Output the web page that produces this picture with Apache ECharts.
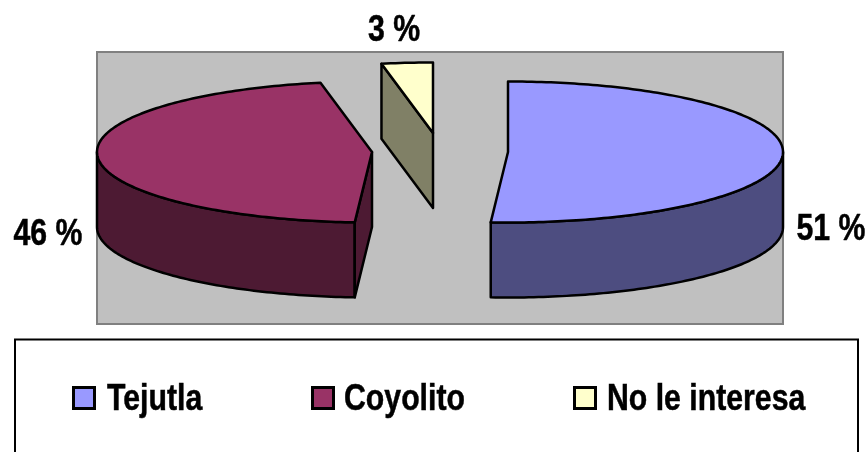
<!DOCTYPE html>
<html>
<head>
<meta charset="utf-8">
<style>html,body{margin:0;padding:0;background:#fff}#chart{width:868px;height:452px}</style>
<script src="https://cdn.jsdelivr.net/npm/echarts@6/dist/echarts.min.js"></script>
</head>
<body>
<div id="chart"></div>
<script>
// Preference shares
const categories = ['Tejutla', 'Coyolito', 'No le interesa'];
const shares = [51, 46, 3];
const topColors = ['#9999FF', '#993366', '#FFFFCC'];
const sideColors = ['#4D4D80', '#4D1A33', '#808066'];

// Pie projection: shared radii and extrusion depth, plus each exploded slice's centre and label anchor
const RX = 275, RY = 70.5, DEPTH = 75;
const centers = [[508, 152], [372, 152], [433, 133]];
const labelAnchors = [[831, 230], [48, 235], [394, 31]];

// Tall, narrow bold lettering: a regular bold face squeezed horizontally
const FONT = 'bold 36px "Liberation Sans", Arial, sans-serif';
const SQUEEZE = 0.84;

// Legend row: box, swatch and text positions
const legendIconX = [73.5, 312.5, 574.5];
const legendTextX = [107, 344, 607];
const LEGEND_Y = 400;

// Cumulative start of each slice, clockwise from twelve o'clock
const starts = shares.map((_, i) => shares.slice(0, i).reduce((a, b) => a + b, 0));

function rimPoint(c, deg, drop) {
  const r = deg * Math.PI / 180;
  return [c[0] + RX * Math.sin(r), c[1] - RY * Math.cos(r) + (drop || 0)];
}
function arc(c, from, to, drop) {
  const pts = [];
  const n = Math.max(2, Math.ceil(Math.abs(to - from)));
  for (let i = 0; i <= n; i++) pts.push(rimPoint(c, from + (to - from) * i / n, drop));
  return pts;
}

function renderSlice(params, api) {
  const i = params.seriesIndex;
  const start = api.value(1) * 3.6;
  const end = start + api.value(0) * 3.6;
  const c = centers[i];
  const toPx = p => api.coord(p);
  const line = { stroke: '#000', lineWidth: 2.5, lineJoin: 'round' };
  const children = [];
  const poly = (pts, fill) => children.push({
    type: 'polygon',
    shape: { points: pts.map(toPx) },
    style: Object.assign({ fill: fill }, line)
  });

  // Outer wall: only the stretch of rim on the near half of the ellipse shows
  const wallFrom = Math.max(start, 90), wallTo = Math.min(end, 270);
  if (wallTo > wallFrom) {
    poly(arc(c, wallFrom, wallTo, 0).concat(arc(c, wallTo, wallFrom, DEPTH)), sideColors[i]);
  }
  // Leading cut face turns toward the viewer once the slice starts past the right extreme
  if (start > 90) {
    const p = rimPoint(c, start, 0);
    poly([c, p, [p[0], p[1] + DEPTH], [c[0], c[1] + DEPTH]], sideColors[i]);
  }
  // Top surface
  poly([c].concat(arc(c, start, end, 0)), topColors[i]);

  // Percentage label
  const a = toPx(labelAnchors[i]);
  children.push({
    type: 'text',
    x: a[0], y: a[1], scaleX: SQUEEZE,
    style: {
      text: api.value(0) + ' %', x: 0, y: 0,
      font: FONT, fill: '#000', stroke: '#000', lineWidth: 0.5,
      align: 'center', verticalAlign: 'middle'
    }
  });
  return { type: 'group', children: children };
}

// Legend box, swatches and names
const legendElements = [{
  type: 'rect', x: 15, y: 339.5,
  shape: { width: 843, height: 130 },
  style: { fill: '#fff', stroke: '#000', lineWidth: 2 }
}];
categories.forEach((name, i) => {
  legendElements.push({
    type: 'rect', x: legendIconX[i], y: LEGEND_Y - 12.5,
    shape: { width: 21, height: 21 },
    style: { fill: topColors[i], stroke: '#000', lineWidth: 3 }
  });
  legendElements.push({
    type: 'text', x: legendTextX[i], y: LEGEND_Y, scaleX: SQUEEZE,
    style: {
      text: name, font: FONT, fill: '#000', stroke: '#000', lineWidth: 0.5,
      align: 'left', verticalAlign: 'middle'
    }
  });
});

const chart = echarts.init(document.getElementById('chart'), null, { renderer: 'canvas' });
chart.setOption({
  animation: false,
  backgroundColor: '#fff',
  grid: {
    left: 97, top: 52, width: 686, height: 272,
    show: true, backgroundColor: '#C0C0C0', borderColor: '#808080', borderWidth: 2
  },
  // Axes run in page units so the projection above reads directly
  xAxis: { type: 'value', min: 97, max: 783, show: false },
  yAxis: { type: 'value', min: 52, max: 324, inverse: true, show: false },
  graphic: { elements: legendElements },
  series: categories.map((name, i) => ({
    type: 'custom',
    name: name,
    clip: false,
    coordinateSystem: 'cartesian2d',
    encode: { x: 1, y: 0 },
    itemStyle: { color: topColors[i] },
    renderItem: renderSlice,
    data: [[shares[i], starts[i]]]
  }))
});
</script>
</body>
</html>
